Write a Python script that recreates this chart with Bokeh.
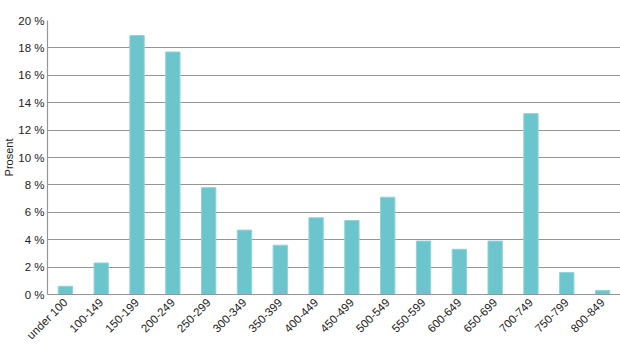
from bokeh.plotting import figure
from bokeh.models import FactorRange, Range1d, PrintfTickFormatter, FixedTicker, ColumnDataSource
from bokeh.embed import file_html
from bokeh.resources import INLINE
import math

categories = ["under 100", "100-149", "150-199", "200-249", "250-299", "300-349",
              "350-399", "400-449", "450-499", "500-549", "550-599", "600-649",
              "650-699", "700-749", "750-799", "800-849"]
values = [0.6, 2.3, 18.9, 17.7, 7.8, 4.7, 3.6, 5.6, 5.4, 7.1, 3.9, 3.3, 3.9, 13.2, 1.6, 0.3]
y_ticks = [0, 2, 4, 6, 8, 10, 12, 14, 16, 18, 20]

src = ColumnDataSource(dict(cat=categories, val=values))

p = figure(width=620, height=356, output_backend="svg", toolbar_location=None,
           x_range=FactorRange(factors=categories, range_padding=0),
           y_range=Range1d(0, 20),
           min_border_left=0, min_border_top=20, min_border_right=0, min_border_bottom=62)

p.vbar(x="cat", top="val", width=0.4, source=src,
       fill_color="#6CC5CD", line_color="#8ED4D9", line_width=1)

p.outline_line_color = None
p.xgrid.grid_line_color = None
p.ygrid.grid_line_color = "#959595"
p.ygrid.grid_line_width = 1.2
p.ygrid.ticker = FixedTicker(ticks=y_ticks)

p.yaxis.ticker = FixedTicker(ticks=y_ticks)
p.yaxis.formatter = PrintfTickFormatter(format="%d %%")
p.yaxis.axis_label = "Prosent"
p.yaxis.axis_label_text_font_style = "normal"
p.yaxis.axis_label_text_font = "Liberation Sans"
p.yaxis.axis_label_text_font_size = "11px"
p.yaxis.axis_label_text_color = "#222222"
p.yaxis.axis_label_standoff = 0

for ax in (p.xaxis, p.yaxis):
    ax.major_tick_line_color = None
    ax.minor_tick_line_color = None
    ax.major_tick_out = 0
    ax.major_tick_in = 0
    ax.axis_line_color = "#959595"
    ax.axis_line_width = 1.2
    ax.major_label_text_font = "Liberation Sans"
    ax.major_label_text_font_size = "11.5px"
    ax.major_label_text_color = "#222222"

p.yaxis.major_label_standoff = 3
p.xaxis.major_label_orientation = math.pi / 4
p.xaxis.major_label_standoff = 6

open("out.html", "w").write(file_html(p, INLINE))
